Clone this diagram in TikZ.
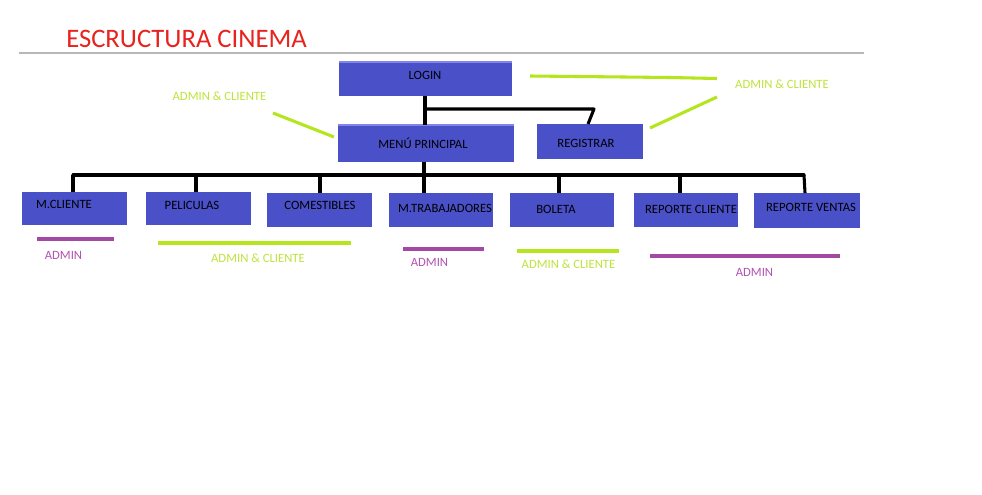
\documentclass[tikz,border=0pt]{standalone}
\usepackage{fontspec}
\setmainfont{Carlito}
\usetikzlibrary{fit,calc}
\definecolor{boxblue}{RGB}{73,80,200}
\definecolor{boxedge}{RGB}{130,132,230}
\definecolor{lgreen}{RGB}{181,230,29}
\definecolor{tgreen}{RGB}{190,228,60}
\definecolor{lpurple}{RGB}{163,73,164}
\definecolor{tpurple}{RGB}{178,82,178}
\definecolor{titlered}{RGB}{232,35,30}
\tikzset{
  box/.style={fill=boxblue, draw=none, inner sep=0pt, outer sep=0pt},
  btxt/.style={font=\fontsize{9.5}{11}\selectfont, text=black, inner sep=0pt},
  conn/.style={draw=black, line width=2.3pt},
  gline/.style={draw=lgreen, line width=2.3pt},
  pline/.style={draw=lpurple, line width=2.3pt},
  gtxt/.style={font=\fontsize{9.5}{11}\selectfont, text=tgreen, inner sep=0pt},
  ptxt/.style={font=\fontsize{9.5}{11}\selectfont, text=tpurple, inner sep=0pt},
}
\begin{document}
\begin{tikzpicture}[x=0.75pt,y=-0.75pt]
\useasboundingbox[fill=white] (0,0) rectangle (982,494);
% title
\node[font=\fontsize{20}{22}\selectfont, text=titlered, anchor=base west, inner sep=0pt] (title) at (66,47) {ESCRUCTURA CINEMA};
\draw[draw=black!28, line width=0.8pt] (19,53) -- (864,53);
% boxes
\node[box, fit={(339,62)(512,96)}] (login) {};
\node[box, fit={(338,125)(514,162)}] (menu) {};
\node[box, fit={(537,124)(643,159)}] (reg) {};
\node[box, fit={(22,192)(127,225)}] (mcli) {};
\node[box, fit={(146,192)(251,225)}] (pel) {};
\node[box, fit={(267,193)(372,227)}] (com) {};
\node[box, fit={(389,193)(493,227)}] (mtra) {};
\node[box, fit={(510,193)(614,227)}] (bol) {};
\node[box, fit={(634,193)(738,227)}] (rcli) {};
\node[box, fit={(754,193)(860,228)}] (rven) {};
\draw[boxedge, line width=1pt] (login.north west) -- (login.north east);
\draw[boxedge, line width=1pt] (menu.north west) -- (menu.north east);
% box texts
\node[btxt] (tlogin) at (425,75) {LOGIN};
\node[btxt] (tmenu) at (423,143) {MENÚ PRINCIPAL};
\node[btxt] (treg) at (586,143) {REGISTRAR};
\node[btxt] (tmcli) at (64,204) {M.CLIENTE};
\node[btxt] (tpel) at (192,205) {PELICULAS};
\node[btxt] (tcom) at (320,205) {COMESTIBLES};
\node[btxt] (tmtra) at (445,208) {M.TRABAJADORES};
\node[btxt] (tbol) at (556,209) {BOLETA};
\node[btxt] (trcli) at (691,209) {REPORTE CLIENTE};
\node[btxt] (trven) at (811,207) {REPORTE VENTAS};
% connectors
\coordinate (j1) at (425,109);
\coordinate (bus) at (424,175);
\draw[conn] (login.south -| j1) -- (menu.north -| j1);
\draw[conn, line join=round] (j1) -- (594,109) -- ($(reg.north)+(-2,0)$);
\draw[conn] (menu.south -| bus) -- (mtra.north -| bus);
\coordinate (d1) at ($(mcli.north)+(-1.5,0)$);
\coordinate (d2) at ($(pel.north)+(-2.5,0)$);
\coordinate (d3) at ($(com.north)+(0.5,0)$);
\coordinate (d5) at ($(bol.north)+(-3,0)$);
\coordinate (d6) at ($(rcli.north)+(-6,0)$);
\coordinate (d7) at ($(rven.north)+(-2,0)$);
\coordinate (b7) at (804,175);
\draw[conn, line cap=round] (d1 |- bus) -- (b7);
\draw[conn] (d1 |- bus) -- (d1);
\draw[conn] (d2 |- bus) -- (d2);
\draw[conn] (d3 |- bus) -- (d3);
\draw[conn] (d5 |- bus) -- (d5);
\draw[conn] (d6 |- bus) -- (d6);
\draw[conn] (b7) -- (d7);
% green annotations top
\node[gtxt] (g1) at (219.5,96) {ADMIN \& CLIENTE};
\node[gtxt] (g2) at (782,84) {ADMIN \& CLIENTE};
\coordinate (g1a) at (273,113);
\coordinate (g1b) at (334,137);
\draw[gline] (g1a) -- (g1b);
\coordinate (g2a) at (530,76);
\coordinate (g2b) at (578,76.5);
\coordinate (g2c) at (670,77.5);
\coordinate (g2d) at (717,78.5);
\draw[gline] (g2a) -- (g2b) -- (g2c) -- (g2d);
\coordinate (g3a) at (650,128);
\coordinate (g3b) at (717,97);
\draw[gline] (g3a) -- (g3b);
% bottom annotations
\coordinate (p1a) at (37,239); \coordinate (p1b) at (114,239);
\draw[pline] (p1a) -- (p1b);
\node[ptxt] (p1) at (63.5,255) {ADMIN};
\coordinate (q1a) at (158,243); \coordinate (q1b) at (351,243);
\draw[gline] (q1a) -- (q1b);
\node[gtxt] (q1) at (258,258) {ADMIN \& CLIENTE};
\coordinate (p2a) at (403,249); \coordinate (p2b) at (484,249);
\draw[pline] (p2a) -- (p2b);
\node[ptxt] (p2) at (429.5,262) {ADMIN};
\coordinate (q2a) at (517,251); \coordinate (q2b) at (619,251);
\draw[gline] (q2a) -- (q2b);
\node[gtxt] (q2) at (568.5,264) {ADMIN \& CLIENTE};
\coordinate (p3a) at (650,256); \coordinate (p3b) at (840,256);
\draw[pline] (p3a) -- (p3b);
\node[ptxt] (p3) at (754.5,272) {ADMIN};
\end{tikzpicture}
\end{document}
